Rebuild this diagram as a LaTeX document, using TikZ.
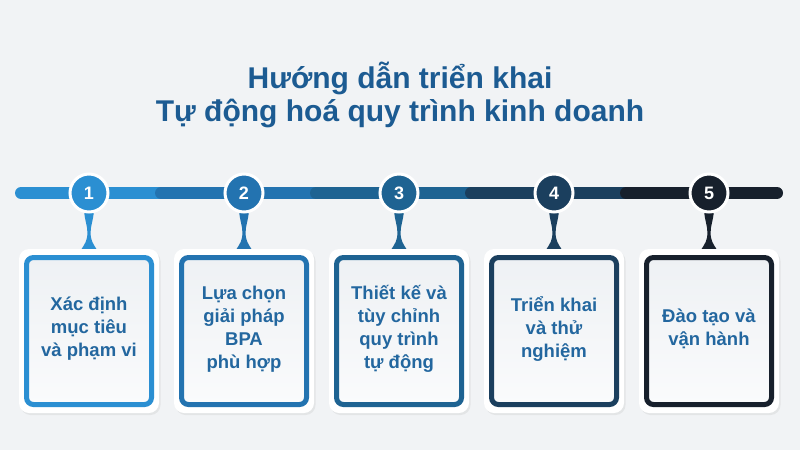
\documentclass[tikz,border=0pt]{standalone}
\usepackage{fontspec}
\setmainfont{Liberation Sans}
\usetikzlibrary{calc,shadows}
\definecolor{bgc}{HTML}{F1F3F5}
\definecolor{s1}{HTML}{2B8FD2}
\definecolor{s2}{HTML}{2373B0}
\definecolor{s3}{HTML}{1E6392}
\definecolor{s4}{HTML}{1B3F5E}
\definecolor{s5}{HTML}{17202C}
\definecolor{ttl}{HTML}{1C5B92}
\definecolor{txt}{HTML}{23679F}
\definecolor{boxtop}{HTML}{EEF1F4}
\definecolor{boxbot}{HTML}{FAFBFC}
\pgfdeclarelayer{back}
\pgfsetlayers{back,main}
\begin{document}
\begin{tikzpicture}[x=1pt,y=-1pt,
  frame/.style={fill=white, rounded corners=10pt, minimum width=140pt, minimum height=164pt, inner sep=0pt,
    drop shadow={opacity=0.12, shadow xshift=1.5pt, shadow yshift=-2pt}},
  stepbox/.style={draw=#1, line width=5pt, rounded corners=7pt, top color=boxtop, bottom color=boxbot,
    minimum width=125pt, minimum height=147pt, inner sep=0pt},
  boxtext/.style={text=txt, font=\bfseries\fontsize{18.5}{23}\selectfont, align=center, inner sep=0pt},
  numdot/.style={circle, fill=#1, draw=white, line width=3pt, minimum size=38pt, inner sep=0pt, text=white,
    font=\bfseries\fontsize{18}{18}\selectfont, drop shadow={opacity=0.15, shadow xshift=0pt, shadow yshift=-1pt}},
  barseg/.style={line width=12pt, line cap=round, draw=#1},
  titletext/.style={text=ttl, font=\bfseries\fontsize{30}{34}\selectfont, anchor=base, inner sep=0pt}
]
\useasboundingbox (0,0) rectangle (800,450);

% title
\node[titletext] (t1) at (400,88) {Hướng dẫn triển khai};
\node[titletext] (t2) at (400,121) {Tự động hoá quy trình kinh doanh};

% frames and boxes
\foreach \i/\x in {1/89,2/244,3/399,4/554,5/709}{
  \node[frame] (f\i) at (\x,331) {};
  \node[stepbox=s\i] (b\i) at (f\i) {};
}
\node[boxtext] (x1) at ($(b1)+(0,-2)$) {Xác định\\mục tiêu\\và phạm vi};
\node[boxtext] (x2) at ($(b2)+(0,-2)$) {Lựa chọn\\giải pháp\\BPA\\phù hợp};
\node[boxtext] (x3) at ($(b3)+(0,-2)$) {Thiết kế và\\tùy chỉnh\\quy trình\\tự động};
\node[boxtext] (x4) at ($(b4)+(0,-2)$) {Triển khai\\và thử\\nghiệm};
\node[boxtext] (x5) at ($(b5)+(0,-2)$) {Đào tạo và\\vận hành};

% number circles
\foreach \i/\x in {1/89,2/244,3/399,4/554,5/709}{
  \node[numdot=s\i] (c\i) at (\x,193) {\i};
}

\begin{pgfonlayer}{back}
  \fill[bgc] (0,0) rectangle (800,450);
  \coordinate (barL) at (21,193);
  \coordinate (barR) at (777,193);
  \draw[barseg=s1] (barL) -- ($(c1)+(80,0)$);
  \foreach \i/\j in {1/2,2/3,3/4}{
    \draw[barseg=s\j] ($(c\i)+(72,0)$) -- ($(c\j)+(80,0)$);
  }
  \draw[barseg=s5] ($(c4)+(72,0)$) -- (barR);
  \foreach \i in {1,...,5}{
    \fill[s\i] ($(c\i.south)+(-5,-3)$)
      .. controls ($(c\i.south)+(-4,8)$) and ($(c\i.south)+(-1.6,12)$) .. ($(c\i.south)+(-1.6,19)$)
      .. controls ($(c\i.south)+(-1.6,27)$) and ($(f\i.north)+(-4,-5)$) .. ($(f\i.north)+(-8,1)$)
      -- ($(f\i.north)+(8,1)$)
      .. controls ($(f\i.north)+(4,-5)$) and ($(c\i.south)+(1.6,27)$) .. ($(c\i.south)+(1.6,19)$)
      .. controls ($(c\i.south)+(1.6,12)$) and ($(c\i.south)+(4,8)$) .. ($(c\i.south)+(5,-3)$)
      -- cycle;
  }
\end{pgfonlayer}
\end{tikzpicture}
\end{document}
